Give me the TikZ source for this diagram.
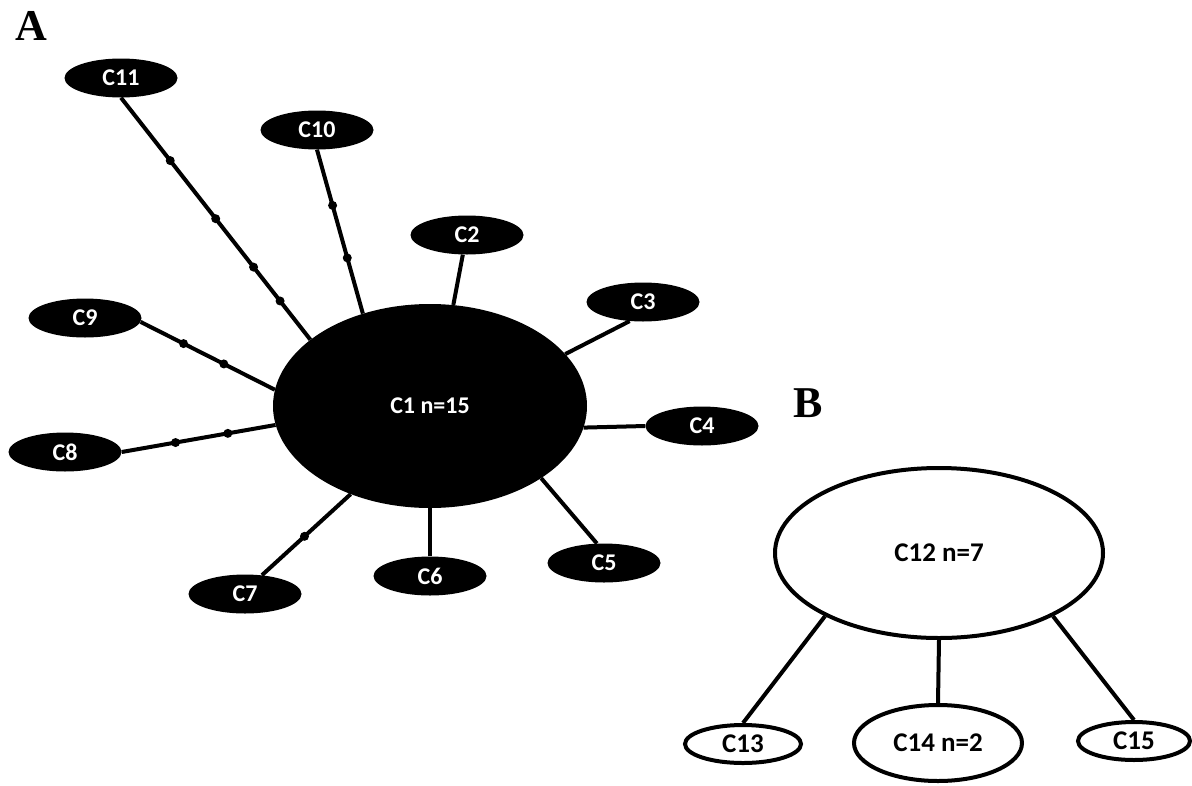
\documentclass[tikz,border=0pt]{standalone}
\usepackage{fontspec}
\setmainfont{Carlito}
\newfontfamily\teilfont{Liberation Serif}
\usetikzlibrary{shapes.geometric}

\tikzset{
    verbindung/.style={line width=4pt},
    punkt/.style={circle, fill=black, inner sep=0pt, minimum size=9pt},
    gross/.style={ellipse, fill=black, text=white, inner sep=0pt,
        minimum width=314pt, minimum height=204pt, font=\fontsize{24}{28}\selectfont\bfseries},
    klein/.style={ellipse, fill=black, text=white, inner sep=0pt,
        minimum width=113pt, minimum height=39pt, font=\fontsize{24}{28}\selectfont\bfseries},
    hell/.style={ellipse, draw=black, line width=4pt, fill=white, inner sep=0pt,
        font=\fontsize{27}{32}\selectfont\bfseries},
    teil/.style={inner sep=0pt, font=\teilfont\fontsize{44}{48}\selectfont\bfseries}
}

\begin{document}
\begin{tikzpicture}[x=1pt, y=-1pt]
    % Bildgroesse festlegen (y zeigt nach unten):
    \useasboundingbox (0,0) rectangle (1192,785);
    % Teil A: der grosse Knoten in der Mitte und seine Nachbarn
    \node[teil] (labA) at (31,26) {A};
    \node[gross] (c1) at (430,406) {C1 n=15};
    \node[klein] (c11) at (121,78) {C11};
    \node[klein] (c10) at (317,130) {C10};
    \node[klein] (c2) at (467,235) {C2};
    \node[klein] (c3) at (643,302) {C3};
    \node[klein] (c4) at (702,426) {C4};
    \node[klein] (c5) at (604,563) {C5};
    \node[klein] (c6) at (430,576) {C6};
    \node[klein] (c7) at (245,594) {C7};
    \node[klein] (c8) at (65,452) {C8};
    \node[klein] (c9) at (85,318) {C9};
    % Kanten; die kleinen Punkte sitzen direkt auf der Linie:
    \draw[verbindung] (c11.south) -- (c1.151)
        node[punkt, pos=0.26] (p11a) {} node[punkt, pos=0.50] (p11b) {}
        node[punkt, pos=0.70] (p11c) {} node[punkt, pos=0.84] (p11d) {};
    \draw[verbindung] (c10.south) -- (c1.126)
        node[punkt, pos=0.34] (p10a) {} node[punkt, pos=0.66] (p10b) {};
    \draw[verbindung] (c2.258) -- (c1.77);
    \draw[verbindung] (c3.235) -- (c1.21);
    \draw[verbindung] (c4.west) -- (c1.352);
    \draw[verbindung] (c5.110) -- (c1.327);
    \draw[verbindung] (c6.north) -- (c1.south);
    \draw[verbindung] (c7.48) -- (c1.228)
        node[punkt, pos=0.48] (p7) {};
    \draw[verbindung] (c8.east) -- (c1.187)
        node[punkt, pos=0.35] (p8a) {} node[punkt, pos=0.69] (p8b) {};
    \draw[verbindung] (c9.356) -- (c1.174)
        node[punkt, pos=0.32] (p9a) {} node[punkt, pos=0.62] (p9b) {};
    % Teil B: weisse Ellipsen mit schwarzem Rand
    \node[teil] (labB) at (808,403) {B};
    \node[hell, minimum width=328pt, minimum height=170pt] (c12) at (939,553) {C12 n=7};
    \node[hell, minimum width=116pt, minimum height=38pt] (c13) at (743,744) {C13};
    \node[hell, minimum width=168pt, minimum height=76pt] (c14) at (938,743) {C14 n=2};
    \node[hell, minimum width=112pt, minimum height=38pt] (c15) at (1134,741) {C15};
    \draw[verbindung] (c12.209) -- (c13.north);
    \draw[verbindung] (c12.south) -- (c14.north);
    \draw[verbindung] (c12.331) -- (c15.north);
\end{tikzpicture}
\end{document}
